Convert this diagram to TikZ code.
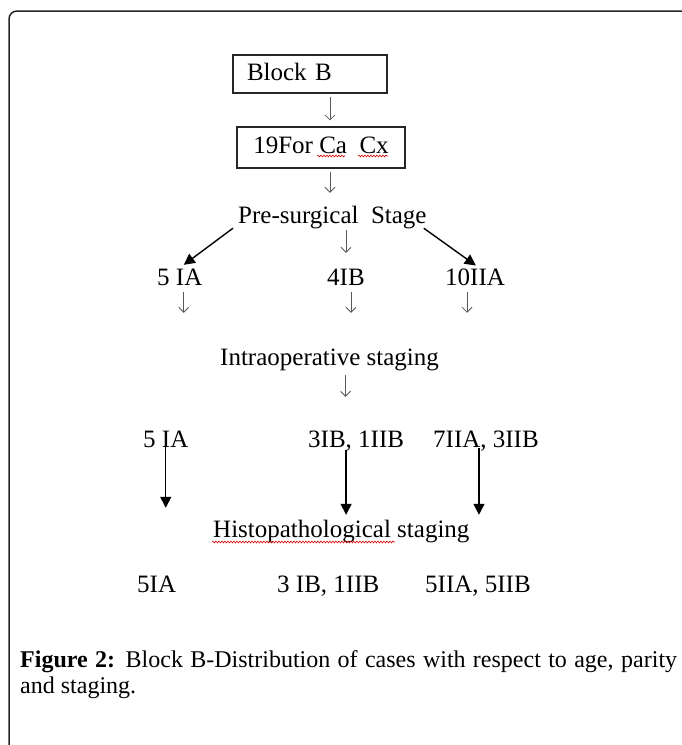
\documentclass[tikz,border=0pt]{standalone}
\usepackage{fontspec}
\setmainfont{Liberation Serif}
\usetikzlibrary{arrows.meta,decorations.pathmorphing,calc}
\begin{document}
\begin{tikzpicture}[x=1pt,y=-1pt,
  lbl/.style={inner sep=0pt,anchor=base west,font=\fontsize{25}{28}\selectfont,text height=17pt,text depth=5pt},
  boxnode/.style={draw=black!85,line width=1.2pt,font=\fontsize{25}{28}\selectfont,text height=17pt,text depth=5pt},
  sarr/.style={draw=black!65,line width=0.8pt,-{Straight Barb[length=5pt,width=10pt]}},
  barr/.style={draw=black,line width=1.4pt,-{Triangle[length=11pt,width=11pt]}},
  wavy/.style={draw=red!85!black,line width=0.6pt,decorate,decoration={snake,amplitude=0.9pt,segment length=3pt}},
  frame/.style={draw=black!85,line width=1.5pt,rounded corners=8pt}]
\useasboundingbox (0,0) rectangle (681,745);
\fill[white] (0,0) rectangle (681,745);
\draw[frame] (690,11) -- (9,11) -- (9,760);
% boxes
\node[boxnode,minimum width=154pt,minimum height=38pt,text width=126pt,align=left,inner xsep=14pt] (b1) at (310,74) {Block B};
\node[boxnode,minimum width=168pt,minimum height=41pt,inner xsep=8pt] (b2) at (321,147.5) {19For Ca\ \ Cx};
\draw[wavy] (317,156) -- (345,156);
\draw[wavy] (358,156) -- (388,156);
% texts
\node[lbl] (pre) at (238,223) {Pre-surgical\ \ Stage};
\node[lbl] (ia1) at (157,285) {5 IA};
\node[lbl] (ib1) at (327,285) {4IB};
\node[lbl] (iia1) at (445,285) {10IIA};
\node[lbl] (intra) at (220,365) {Intraoperative staging};
\node[lbl] (ia2) at (143,447) {5 IA};
\node[lbl] (ib2) at (308,447) {3IB, 1IIB};
\node[lbl] (iia2) at (433,447) {7IIA, 3IIB};
\node[lbl] (histo) at (213,537) {Histopathological staging};
\draw[wavy] (212,542) -- (395,542);
\node[lbl] (ia3) at (137,592) {5IA};
\node[lbl] (ib3) at (277,592) {3 IB, 1IIB};
\node[lbl] (iia3) at (425,592) {5IIA, 5IIB};
% small arrows
\draw[sarr,shorten <=3pt,shorten >=6pt] ([xshift=20pt]b1.south) -- ([xshift=20pt]b1.south |- b2.north);
\draw[sarr,shorten <=3pt,shorten >=13pt] ([xshift=9pt]b2.south) -- ([xshift=9pt]b2.south |- pre.north);
\draw[sarr,shorten <=2pt,shorten >=15pt] (ib1.north |- pre.south) -- (ib1.north);
\draw[sarr,shorten <=2pt,shorten >=35pt] ([xshift=4pt]ia1.south) -- ([xshift=4pt]ia1.south |- intra.north);
\draw[sarr,shorten <=2pt,shorten >=35pt] ([xshift=5pt]ib1.south) -- ([xshift=5pt]ib1.south |- intra.north);
\draw[sarr,shorten <=2pt,shorten >=35pt] ([xshift=-8pt]iia1.south) -- ([xshift=-8pt]iia1.south |- intra.north);
\draw[sarr,shorten <=5pt,shorten >=33pt] ([xshift=16pt]intra.south) -- ([xshift=16pt]intra.south |- ib2.north);
% big arrows
\draw[barr,shorten >=5pt] ([xshift=-5pt]pre.south west) -- (ia1.north);
\draw[barr,shorten >=4pt] ([xshift=-3pt]pre.south east) -- ([xshift=4pt]iia1.north);
\draw[barr,shorten >=12pt] (ia2.base) -- (ia2.base |- histo.north);
\draw[barr,shorten <=3pt,shorten >=5pt] ([xshift=-10pt]ib2.base) -- ([xshift=-10pt]ib2.base |- histo.north);
\draw[barr,shorten <=1pt,shorten >=5pt] ([xshift=-7pt]iia2.base) -- ([xshift=-7pt]iia2.base |- histo.north);
% caption
\node[inner sep=0pt,anchor=base west,text width=657pt,align=justify,font=\fontsize{24}{26}\selectfont] (cap) at (20,667) {\textbf{Figure 2:} Block B-Distribution of cases with respect to age, parity\linebreak and staging.};
\end{tikzpicture}
\end{document}
